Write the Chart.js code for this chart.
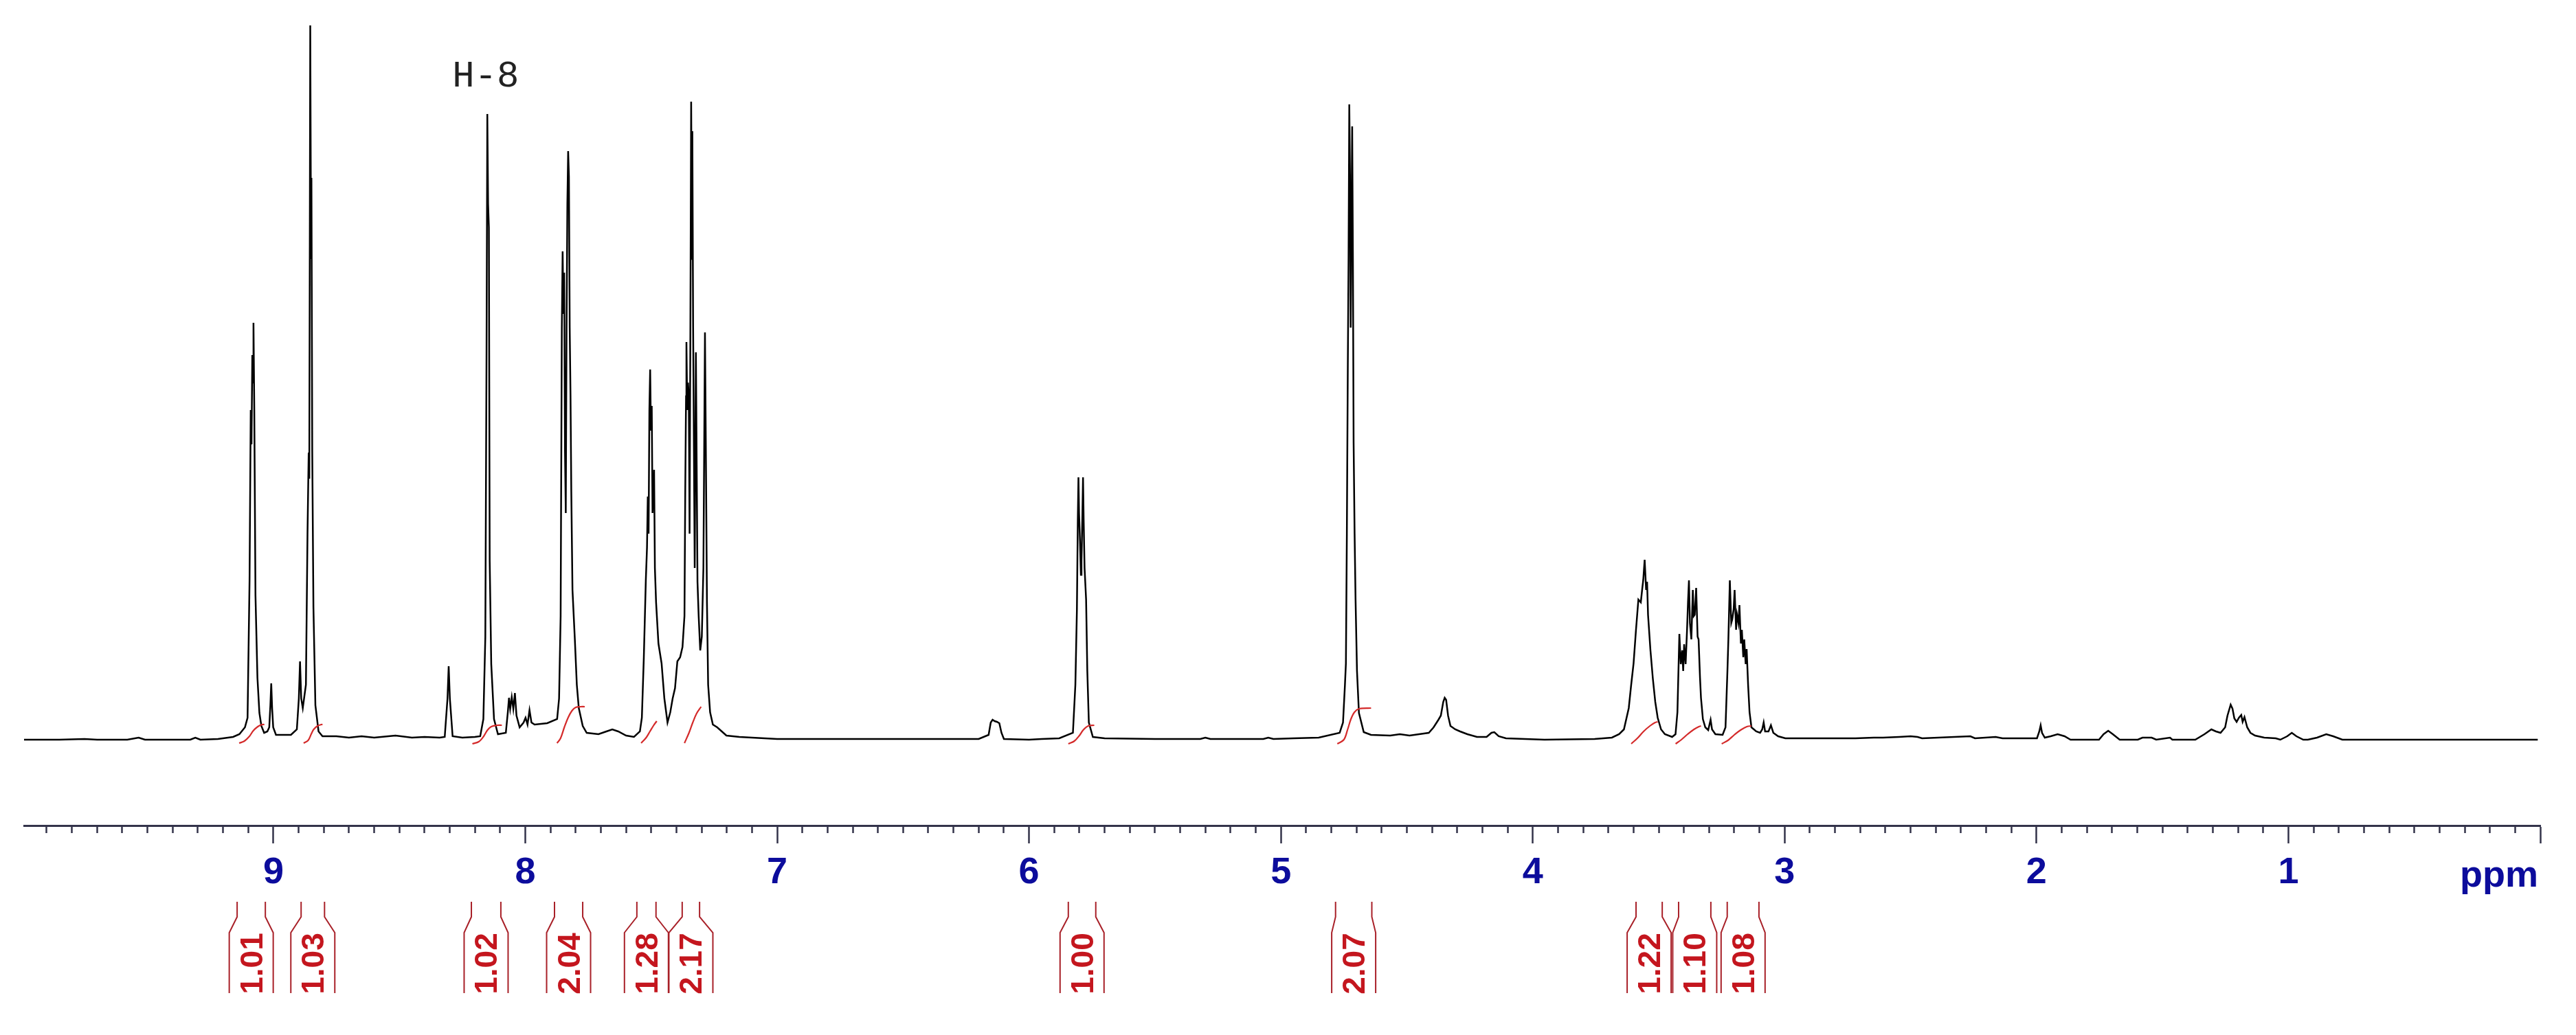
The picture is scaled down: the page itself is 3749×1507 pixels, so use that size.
<!DOCTYPE html>
<html>
<head>
<meta charset="utf-8">
<style>
html,body{margin:0;padding:0;background:#ffffff;}
canvas{display:block;}
</style>
<script src="https://cdn.jsdelivr.net/npm/chart.js@4.4.0/dist/chart.umd.min.js"></script>
</head>
<body>
<canvas id="c" width="3749" height="1507"></canvas>
<script>
// ---------- DATA ----------
// chemical shift (ppm) of traced spectrum points, high field to low field
const shiftAromatic = [9.99,9.85,9.75,9.70,9.58,9.535,9.51,9.40,9.33,9.31,9.29,9.22,9.20,9.16,9.135,9.113,9.1026,9.0947,9.0900,9.0869,9.0838,9.0810,9.0791,9.0759,9.0712,9.0634,9.0556,9.0478,9.0368,9.0240,9.0165,9.0120,9.0086,9.0050,9.0008,8.9898,8.9304,8.9069,8.8990,8.8943,8.8896,8.8834,8.8709,8.8646,8.8599,8.8575,8.8537,8.8505,8.8490,8.8458,8.8411,8.8333,8.8208,8.8051,8.75,8.70,8.65,8.60,8.5155,8.45,8.40,8.34,
8.3198,8.3088,8.3041,8.2994,8.2885,8.25,8.20,8.1789,8.1664,8.1586,8.1539,8.1507,8.1476,8.1445,8.1413,8.1351,8.1241,8.1085,8.0772,8.0693,8.0646,8.0599,8.0537,8.0474,8.0412,8.0349,8.0224,8.0067,7.9989,7.9911,7.9832,7.9754,7.9629,7.9128,7.8736,7.8658,7.8596,7.8549,7.8517,7.8486,7.8455,7.8423,7.8392,7.8361,7.8329,7.8298,7.8267,7.8236,7.8204,7.8173,7.8126,7.8032,7.7954,7.7875,7.7719,7.7562,7.7093,7.6780,7.6545,7.6310,7.5997,7.5684,7.5449,7.5371,7.5293,7.5214,7.5167,7.5136,7.5104,7.5073,7.5042,7.5011,7.4979,7.4948,7.4917,7.4886,7.4854,7.4807,7.4713,7.4588,7.4478,7.4353,7.4243,7.4149,7.4055,7.3962,7.3852,7.3758,7.3680,7.3649,7.3617,7.3602,7.3570,7.3539,7.3508,7.3477,7.3445,7.3414,7.3383,7.3367,7.3336,7.3304,7.3273,7.3226,7.3195,7.3163,7.3116,7.3054,7.2991,7.2928,7.2897,7.2866,7.2834,7.2787,7.2740,7.2662,7.2552,7.2380,7.2014,7.15,7.10,7.00];
const heightAromatic = [0,0,1,0,0,3,0,0,0,3,0,1,2,4,8,18,32,232,480,430,560,520,607,480,210,90,39,20,10,12,18,50,82,45,18,7,7,15,60,114,60,46,80,300,418,380,1040,700,818,420,193,50,12,5,5,3,5,3,6,3,4,3,
4,60,107,60,5,3,4,5,30,150,560,911,780,746,261,110,30,8,10,40,61,45,62,45,68,35,18,25,32,22,43,25,22,24,30,60,180,600,711,620,680,420,330,600,780,857,820,600,500,361,218,146,80,46,20,10,8,12,15,12,6,4,12,32,120,232,280,354,300,480,539,450,486,330,360,393,250,200,140,111,60,25,40,60,75,114,120,135,180,361,500,579,480,520,500,300,600,929,700,886,600,420,250,564,400,230,180,130,150,250,420,593,439,200,80,40,22,18,6,4,3,1];

const shiftMiddle = [6.80,6.60,6.40,6.20,6.1605,6.1520,6.1447,6.1362,6.1277,6.1179,6.1094,6.0997,6.00,5.95,5.88,5.8257,5.8160,5.8099,5.8063,5.8038,5.8014,5.7977,5.7941,5.7917,5.7880,5.7856,5.7831,5.7795,5.7734,5.7686,5.7625,5.7466,5.70,5.50,5.32,5.30,5.28,5.07,5.05,5.03,4.95,4.85,4.7667,4.7534,4.7457,4.7419,4.7381,4.7343,4.7314,4.7285,4.7256,4.7228,4.7199,4.7170,4.7141,4.7113,4.7074,4.7036,4.6979,4.6902,4.6711,4.6424,4.5659,4.5276,4.4894,4.4511,4.4128,4.3937,4.3746,4.3650,4.3554,4.3497,4.3440,4.3363,4.3268,4.3077,4.2885,4.2598,4.2215,4.1833,4.1641,4.1527,4.1354,4.1067,3.9537,3.7546,3.6858,3.6572,3.6381];
const heightMiddle = [1,1,1,1,7,25,29,27,26,24,10,1,0,1,2,10,80,189,320,382,330,290,240,261,330,382,320,250,204,100,25,4,2,1,1,3,1,1,3,1,2,3,10,25,80,111,300,546,700,925,820,600,750,893,700,432,300,204,100,39,11,7,6,8,6,8,10,18,29,35,55,61,58,35,20,15,12,8,4,4,10,11,5,2,0,1,3,8,15];

const shiftAliphatic = [3.6189,3.6093,3.5998,3.5902,3.5807,3.5711,3.5653,3.5615,3.5558,3.5500,3.5462,3.5424,3.5328,3.5233,3.5137,3.5041,3.4907,3.4754,3.4467,3.4333,3.4257,3.4180,3.4123,3.4066,3.4028,3.3990,3.3932,3.3875,3.3837,3.3799,3.3761,3.3704,3.3646,3.3608,3.3570,3.3513,3.3456,3.3417,3.3360,3.3322,3.3246,3.3150,3.3035,3.2940,3.2883,3.2750,3.2463,3.2348,3.2272,3.2234,3.2176,3.2119,3.2081,3.2024,3.1986,3.1928,3.1890,3.1833,3.1795,3.1737,3.1699,3.1642,3.1604,3.1547,3.1509,3.1451,3.1394,3.1318,3.1127,3.0974,3.0890,3.0833,3.0776,3.0641,3.0545,3.0450,3.0259,2.9972,
2.7188,2.6458,2.6093,2.5455,2.4999,2.4725,2.4543,2.2627,2.2445,2.1624,2.1350,1.9982,1.9890,1.9836,1.9781,1.9672,1.9435,1.9161,1.8887,1.8650,1.7519,1.7336,1.7154,1.6971,1.6698,1.5977,1.5794,1.5429,1.5247,1.4700,1.4608,1.3696,1.3332,1.3058,1.2876,1.2693,1.2511,1.2419,1.2292,1.2219,1.2146,1.2055,1.1963,1.1872,1.1817,1.1744,1.1635,1.1507,1.1324,1.0959,1.0503,1.0321,1.0047,0.9865,0.9682,0.9409,0.9226,0.8861,0.8497,0.8223,0.7858,0.01];
const heightAliphatic = [46,80,111,160,204,200,220,232,262,218,230,182,130,89,55,32,15,8,4,8,40,154,110,130,100,139,110,160,200,232,170,146,218,180,182,221,150,146,90,61,30,18,14,29,15,8,7,18,100,146,232,170,175,190,218,160,182,170,196,140,160,120,146,110,132,80,40,18,12,10,15,25,12,12,21,10,5,2,
2,3,3,4,5,4,2,5,2,4,2,2,12,21,10,3,5,8,5,0,0,8,13,8,0,0,3,3,0,3,0,0,8,15,12,10,18,35,51,45,31,26,32,36,26,33,18,10,6,3,2,0,5,10,5,0,0,3,8,5,0,0];

// integrals: value labels, region limits (ppm)
const integralLabels = ['1.01','1.03','1.02','2.04','1.28','2.17','1.00','2.07','1.22','1.10','1.08'];
const integralStart  = [9.144,8.890,8.214,7.884,7.557,7.377,5.844,4.783,3.590,3.421,3.228];
const integralEnd    = [9.032,8.797,8.097,7.772,7.481,7.308,5.735,4.639,3.486,3.293,3.102];

// integral curves traced under each region (ppm, height)
const integralCurveShift = [
  [9.136,9.115,9.095,9.080,9.062,9.045,9.036],
  [8.880,8.862,8.850,8.840,8.825,8.810,8.805],
  [8.210,8.185,8.165,8.150,8.135,8.110,8.093],
  [7.874,7.860,7.845,7.830,7.815,7.800,7.780,7.764],
  [7.540,7.520,7.505,7.490,7.478],
  [7.368,7.350,7.335,7.320,7.302],
  [5.844,5.820,5.800,5.785,5.765,5.741],
  [4.776,4.750,4.735,4.722,4.708,4.690,4.642],
  [3.609,3.585,3.560,3.535,3.514,3.504],
  [3.433,3.410,3.385,3.360,3.340,3.332],
  [3.250,3.225,3.200,3.175,3.150,3.132]
];
const integralCurveHeight = [
  [-5,-2,5,13,19,22,22],
  [-5,-1,8,15,20,22,22],
  [-6,-3,5,14,19,21,21],
  [-5,2,18,32,42,47,48,48],
  [-5,3,12,21,27],
  [-5,10,25,38,48],
  [-6,-2,6,14,20,21],
  [-6,0,15,30,40,45,46],
  [-6,2,12,20,25,26],
  [-6,0,8,15,19,20],
  [-6,-1,7,14,19,20]
];

const peakLabel = 'H-8';
const peakLabelShift = 8.157;

const axisUnit = 'ppm';
const axisMin = 0;
const axisMax = 9.99;

// ---------- BUILD ----------
function pairs(xs, ys){ return xs.map((x,i)=>({x:x, y:ys[i]})); }
const spectrum = [].concat(
  pairs(shiftAromatic, heightAromatic),
  pairs(shiftMiddle, heightMiddle),
  pairs(shiftAliphatic, heightAliphatic)
);

const datasets = [{
  data: spectrum,
  borderColor: '#000000',
  borderWidth: 2.5,
  pointRadius: 0,
  tension: 0,
  fill: false,
  order: 1
}];
integralCurveShift.forEach((xs, i) => {
  datasets.push({
    data: pairs(xs, integralCurveHeight[i]),
    borderColor: '#d42a2a',
    borderWidth: 2.2,
    pointRadius: 0,
    tension: 0.35,
    fill: false,
    order: 0
  });
});

const isMajor = v => Math.abs(v - Math.round(v)) < 1e-6;
const TICK_FONT = 'bold 54px "Liberation Sans", Arial, sans-serif';
const TICK_COLOR = '#0c0c9c';

const annotate = {
  id: 'annotate',
  afterDraw(chart) {
    const ctx = chart.ctx;
    const xs = chart.scales.x;
    ctx.save();
    // peak label
    ctx.fillStyle = '#222222';
    ctx.font = '54px "Liberation Mono", "DejaVu Sans Mono", monospace';
    ctx.textAlign = 'center';
    ctx.textBaseline = 'alphabetic';
    ctx.fillText(peakLabel, xs.getPixelForValue(peakLabelShift), 126);

    // axis unit, right-aligned to the end of the axis on the tick-label row
    ctx.fillStyle = TICK_COLOR;
    ctx.font = TICK_FONT;
    ctx.textAlign = 'right';
    ctx.textBaseline = 'alphabetic';
    ctx.fillText(axisUnit, xs.getPixelForValue(axisMin) - 3, 1291);

    // integral brackets
    const half = 32;
    integralLabels.forEach((lab, i) => {
      const a = xs.getPixelForValue(integralStart[i]);
      const b = xs.getPixelForValue(integralEnd[i]);
      const c = (a + b) / 2;
      ctx.strokeStyle = '#a82028';
      ctx.lineWidth = 2;
      ctx.beginPath();
      ctx.moveTo(a, 1313); ctx.lineTo(a, 1335); ctx.lineTo(c - half, 1358); ctx.lineTo(c - half, 1446);
      ctx.moveTo(b, 1313); ctx.lineTo(b, 1335); ctx.lineTo(c + half, 1358); ctx.lineTo(c + half, 1446);
      ctx.stroke();
      ctx.save();
      ctx.translate(c + 16, 1403);
      ctx.rotate(-Math.PI / 2);
      ctx.fillStyle = '#c4161e';
      ctx.font = 'bold 46px "Liberation Sans", Arial, sans-serif';
      ctx.textAlign = 'center';
      ctx.textBaseline = 'alphabetic';
      ctx.fillText(lab, 0, 0);
      ctx.restore();
    });
    ctx.restore();
  }
};

new Chart(document.getElementById('c'), {
  type: 'line',
  data: { datasets: datasets },
  options: {
    responsive: false,
    devicePixelRatio: 1,
    animation: false,
    layout: { padding: { left: 35, right: 52, top: 20, bottom: 0 } },
    plugins: { legend: { display: false }, tooltip: { enabled: false }, title: { display: false } },
    scales: {
      x: {
        type: 'linear',
        reverse: true,
        min: axisMin,
        max: axisMax,
        position: 'bottom',
        afterFit: s => { s.height = 305; },
        border: { display: true, color: '#33334a', width: 3 },
        grid: {
          drawOnChartArea: false,
          drawTicks: true,
          tickLength: 26,
          tickWidth: 2.5,
          tickColor: '#33334a',
          tickBorderDash: c => (c.tick && isMajor(c.tick.value)) ? [] : [9, 200]
        },
        ticks: {
          stepSize: 0.1,
          autoSkip: false,
          includeBounds: false,
          maxRotation: 0,
          minRotation: 0,
          padding: 11,
          color: TICK_COLOR,
          font: { family: '"Liberation Sans", Arial, sans-serif', size: 54, weight: 'bold' },
          callback: v => (isMajor(v) && Math.round(v) !== 0) ? String(Math.round(v)) : ''
        }
      },
      y: { display: false, min: -125, max: 1057 }
    }
  },
  plugins: [annotate]
});
</script>
</body>
</html>
